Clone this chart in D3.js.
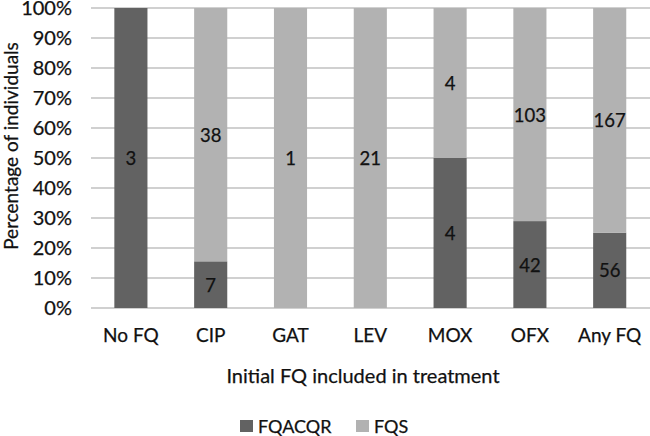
<!DOCTYPE html>
<html>
<head>
<meta charset="utf-8">
<script src="https://cdn.jsdelivr.net/npm/d3@7"></script>
<style>
  html, body { margin: 0; padding: 0; background: #fff; }
  svg { display: block; font-family: Lato, "Open Sans", sans-serif; }
  text { stroke: #111; stroke-width: 0.25px; }
</style>
</head>
<body>
<svg id="chart" width="650" height="436"></svg>
<script>
const categories = ["No FQ", "CIP", "GAT", "LEV", "MOX", "OFX", "Any FQ"];
const fqacqr = [3, 7, 0, 0, 4, 42, 56];
const fqs = [0, 38, 1, 21, 4, 103, 167];
const seriesNames = ["FQACQR", "FQS"];
const yTicks = [0, 0.1, 0.2, 0.3, 0.4, 0.5, 0.6, 0.7, 0.8, 0.9, 1.0];
const colors = { FQACQR: "#626262", FQS: "#b2b2b2" };

const svg = d3.select("#chart");
const x = d3.scaleBand().domain(categories).range([91, 649.6]).paddingInner(0.585).paddingOuter(0.2925);
const y = d3.scaleLinear().domain([0, 1]).range([308, 8]);

const rows = categories.map((c, i) => ({ cat: c, FQACQR: fqacqr[i], FQS: fqs[i], total: fqacqr[i] + fqs[i] }));
const pct = rows.map(r => ({ cat: r.cat, FQACQR: r.FQACQR / r.total, FQS: r.FQS / r.total, raw: r }));
const stack = d3.stack().keys(seriesNames)(pct);

// gridlines
svg.append("g").selectAll("line").data(yTicks).join("line")
  .attr("x1", 91).attr("x2", 650)
  .attr("y1", d => y(d)).attr("y2", d => y(d))
  .attr("stroke", "#c0c0c0").attr("stroke-width", 1.5);

// y axis labels
const yAxis = d3.axisLeft(y).tickValues(yTicks).tickFormat(d3.format(".0%")).tickSize(0).tickPadding(0);
const yg = svg.append("g").attr("transform", "translate(72,0)").call(yAxis);
yg.select(".domain").remove();
yg.selectAll("text").attr("font-size", 20).attr("fill", "#111").attr("font-family", "Lato, sans-serif").attr("dy", "0.34em");

// bars
svg.append("g").selectAll("g").data(stack).join("g")
  .attr("fill", d => colors[d.key])
  .selectAll("rect").data(d => d).join("rect")
  .attr("x", d => x(d.data.cat))
  .attr("width", x.bandwidth())
  .attr("y", d => y(d[1]))
  .attr("height", d => y(d[0]) - y(d[1]));

// value labels
stack.forEach(s => {
  svg.append("g").selectAll("text").data(s.filter(d => d.data.raw[s.key] > 0)).join("text")
    .attr("x", d => x(d.data.cat) + x.bandwidth() / 2)
    .attr("y", d => y((d[0] + d[1]) / 2))
    .attr("dy", "0.38em")
    .attr("text-anchor", "middle")
    .attr("font-size", 18.5).attr("fill", "#111")
    .text(d => d.data.raw[s.key]);
});

// x axis labels
const xAxis = d3.axisBottom(x).tickSize(0).tickPadding(0);
const xg = svg.append("g").attr("transform", "translate(0,342)").call(xAxis);
xg.select(".domain").remove();
xg.selectAll("text").attr("font-size", 19).attr("fill", "#111").attr("font-family", "Lato, sans-serif").attr("dy", 0);

// axis titles
svg.append("text").attr("x", 363).attr("y", 383).attr("text-anchor", "middle")
  .attr("font-size", 20).attr("fill", "#111").text("Initial FQ included in treatment");
svg.append("text").attr("transform", "translate(18,146) rotate(-90)").attr("text-anchor", "middle")
  .attr("font-size", 19).attr("fill", "#111").text("Percentage of individuals");

// legend
const lg = svg.append("g");
const legendX = [240, 356];
seriesNames.forEach((k, i) => {
  lg.append("rect").attr("x", legendX[i]).attr("y", 420).attr("width", 13).attr("height", 12).attr("fill", colors[k]);
  lg.append("text").attr("x", legendX[i] + 18).attr("y", 433).attr("font-size", 18).attr("fill", "#111").text(k);
});
</script>
</body>
</html>
